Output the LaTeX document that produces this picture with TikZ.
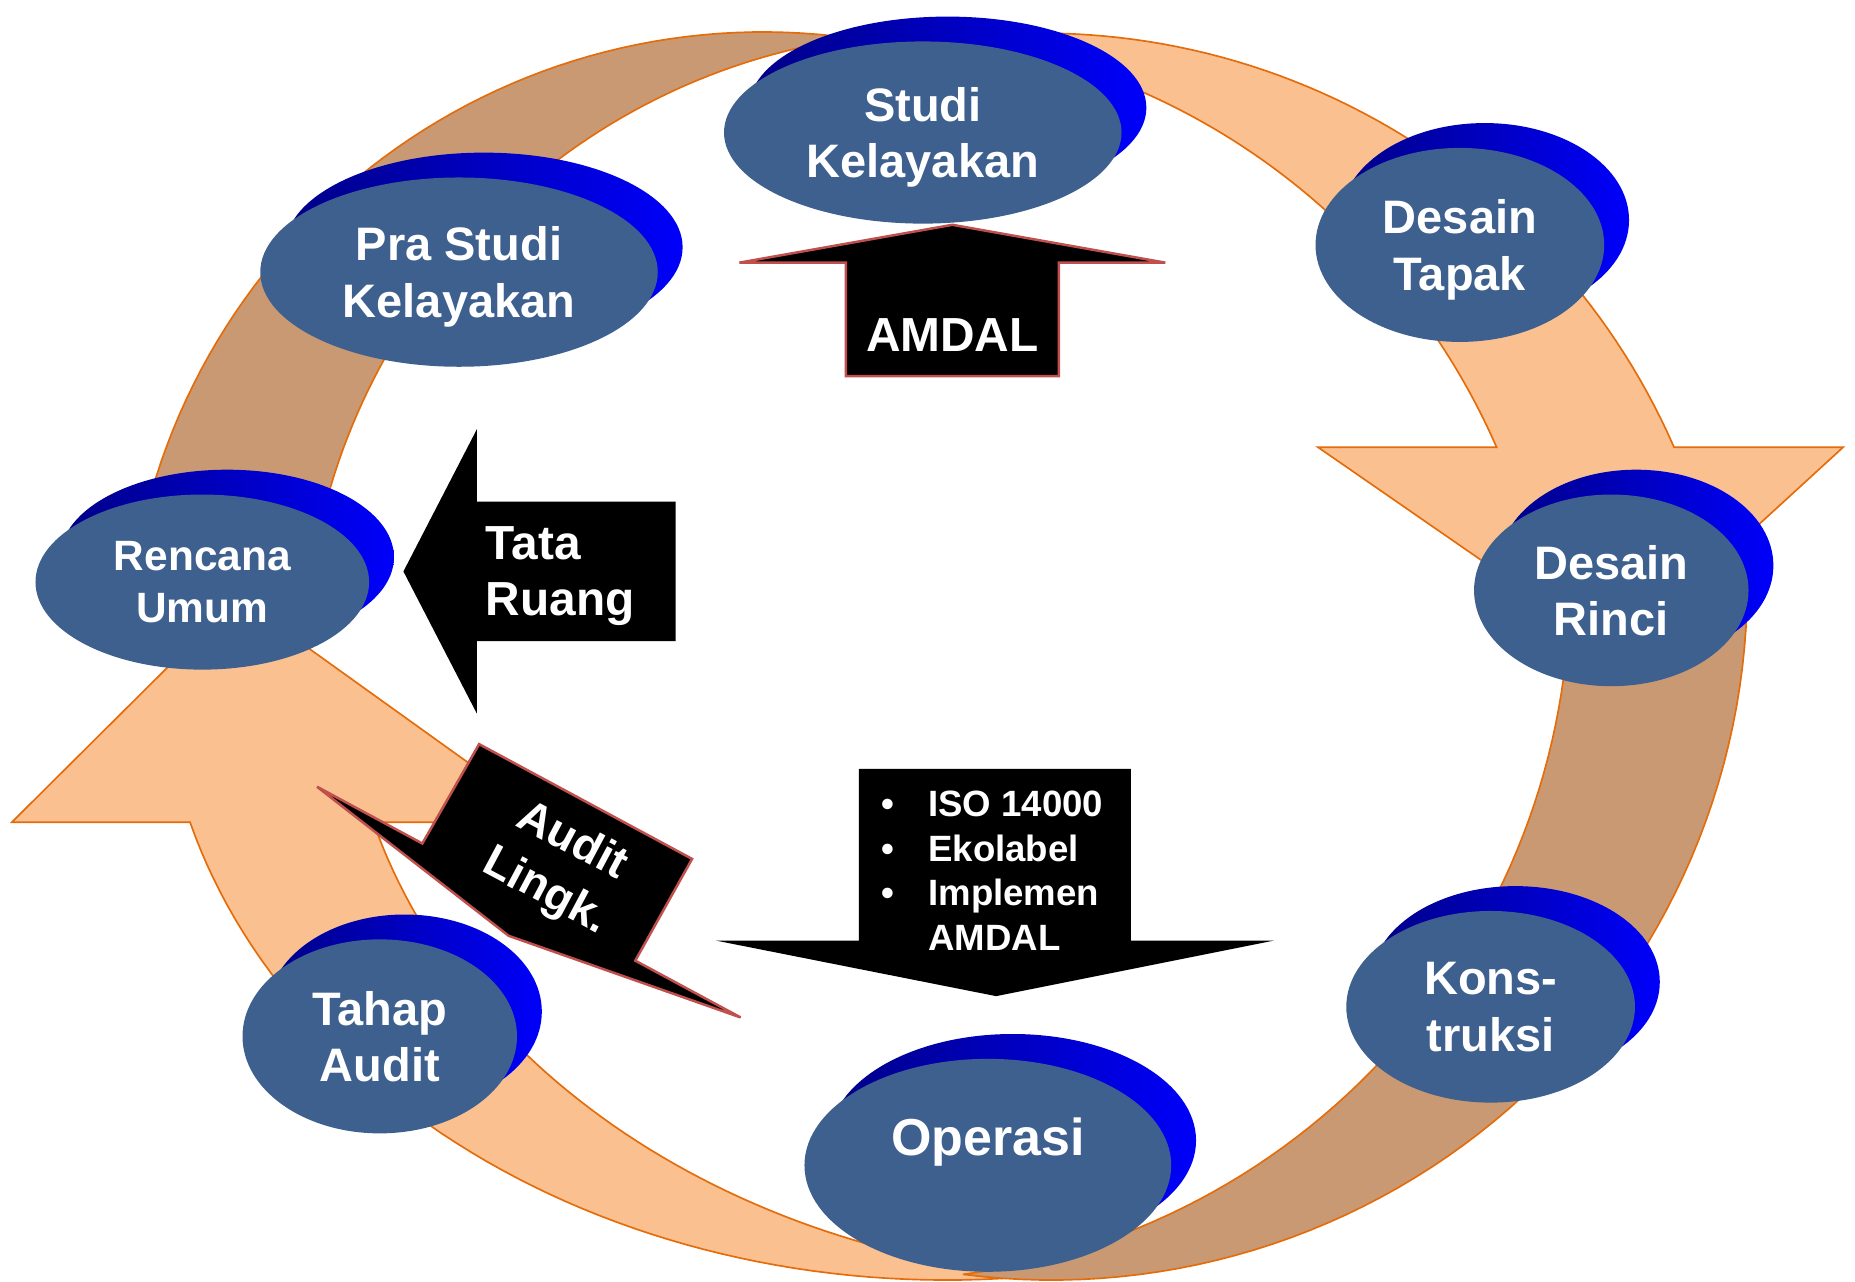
\documentclass[tikz,border=0pt]{standalone}
\usepackage{fontspec}
\setmainfont{Liberation Sans}
\usepackage{tikz}
\usetikzlibrary{shapes.geometric, shadows}
\definecolor{peach}{RGB}{250,192,144}
\definecolor{bandtan}{RGB}{201,153,115}
\definecolor{bandline}{RGB}{228,108,10}
\definecolor{discblue}{RGB}{61,96,143}
\definecolor{discdark}{RGB}{0,0,135}
\definecolor{disclight}{RGB}{0,0,250}
\definecolor{arrowedge}{RGB}{192,80,77}
\tikzset{
  band/.style={draw=bandline, line width=0.4pt},
  disc/.style={ellipse, fill=discblue, text=white, inner sep=0pt, align=center, text depth=0pt,
    font=\bfseries\fontsize{11.3}{13.6}\selectfont,
    general shadow={shadow xshift=2.1mm, shadow yshift=2.1mm, left color=discdark, right color=disclight}},
  edgearrow/.style={fill=black, draw=arrowedge, line width=0.6pt},
  arrowtext/.style={text=white, inner sep=0pt, font=\bfseries\fontsize{11.5}{13.4}\selectfont}
}

\begin{document}
\begin{tikzpicture}[x=0.1mm, y=-0.1mm]
\useasboundingbox (0,0) rectangle (1568,1083);
\clip (0,0) rectangle (1568,1083);

% ring of curved arrows
\draw[band, fill=peach] plot[domain=164.35:83.3, samples=60] ({800+664*cos(\x)}, {552+530*sin(\x)})
  -- plot[domain=96.7:164.35, samples=60] ({955+664*cos(\x)}, {552+530*sin(\x)})
  -- (466,695) -- (201,505) -- (10,695) -- cycle;
\draw[band, fill=peach] plot[domain=262.6:336.38, samples=60] ({880+584*cos(\x)}, {612+584*sin(\x)})
  -- (1558,378) -- (1367,553) -- (1114,378)
  -- plot[domain=336.38:277.4, samples=60] ({730+584*cos(\x)}, {612+584*sin(\x)}) -- cycle;
\draw[band, fill=bandtan] plot[domain=190.17:278, samples=60] ({645+538*cos(\x)}, {565+538*sin(\x)})
  -- plot[domain=262:190.17, samples=60] ({795+538*cos(\x)}, {565+538*sin(\x)}) -- cycle;
\draw[band, fill=bandtan] plot[domain=2.05:97.33, samples=60] ({889+588*cos(\x)}, {494+588*sin(\x)})
  -- plot[domain=82.67:2.05, samples=60] ({739+588*cos(\x)}, {494+588*sin(\x)}) -- cycle;

% black arrows
\draw[edgearrow] (805,190) -- (985,222) -- (895,222) -- (895,318) -- (715,318) -- (715,222) -- (625,222) -- cycle;
\fill (341,483) -- (403,363) -- (403,424) -- (571,424) -- (571,542) -- (403,542) -- (403,603) -- cycle;
\fill (726,650) -- (956,650) -- (956,795) -- (1077,795) -- (842,842) -- (605,795) -- (726,795) -- cycle;
\draw[edgearrow] (268,665) -- (357,713) -- (405,629) -- (585,726) -- (537,812) -- (626,860) -- (430,791) -- cycle;

\node[arrowtext] (amdal) at (805,283) {AMDAL};
\node[arrowtext, align=left, anchor=west] (tataruang) at (410,487) {Tata\\Ruang};
\node[arrowtext, align=left, anchor=west, font=\bfseries\fontsize{8.8}{10.7}\selectfont] (isolist) at (744,736)
  {\makebox[4mm][l]{\textbullet}ISO 14000\\\makebox[4mm][l]{\textbullet}Ekolabel\\
   \makebox[4mm][l]{\textbullet}Implemen\\\makebox[4mm][l]{}AMDAL};
\node[arrowtext, align=center, rotate=-28, font=\bfseries\fontsize{11}{13.6}\selectfont] (audit) at (472,733) {Audit\\Lingk.};

% stages
\node[disc, minimum width=33.6mm, minimum height=15.4mm] (studi) at (780,112) {Studi\\Kelayakan};
\node[disc, minimum width=33.6mm, minimum height=16mm] (prastudi) at (388,230) {Pra Studi\\Kelayakan};
\node[disc, minimum width=24.4mm, minimum height=16.4mm] (tapak) at (1234,207) {Desain\\Tapak};
\node[disc, minimum width=23.2mm, minimum height=16.2mm] (rinci) at (1362,499) {Desain\\Rinci};
\node[disc, minimum width=28.2mm, minimum height=14.8mm, font=\bfseries\fontsize{10.2}{12.4}\selectfont] (rencana) at (171,492) {Rencana\\Umum};
\node[disc, minimum width=24.4mm, minimum height=16.2mm] (konstruksi) at (1260,851) {Kons-\\truksi};
\node[disc, minimum width=23.2mm, minimum height=16.4mm] (tahap) at (321,876) {Tahap\\Audit};
\node[disc, minimum width=31mm, minimum height=18mm, text depth=13.9pt, font=\bfseries\fontsize{12.5}{15}\selectfont] (operasi) at (835,985) {Operasi};
\end{tikzpicture}
\end{document}
